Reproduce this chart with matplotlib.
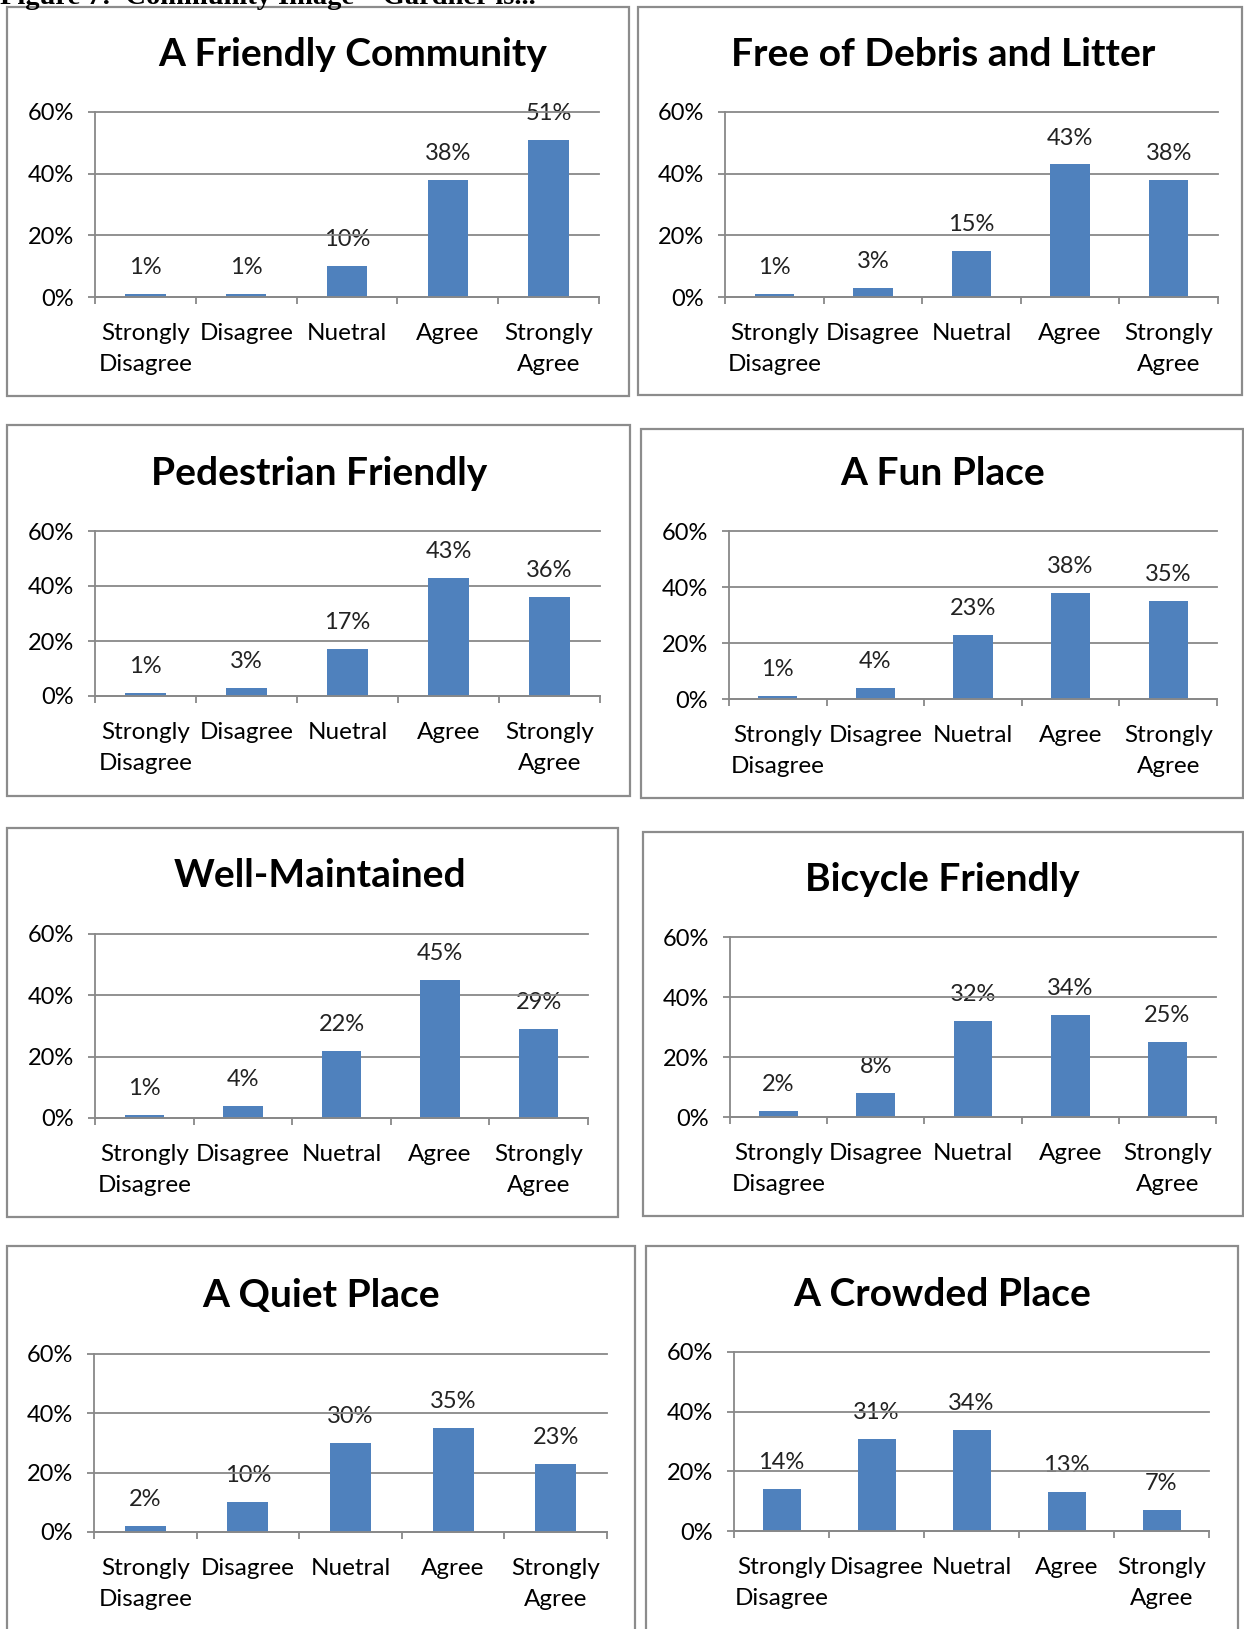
import matplotlib
matplotlib.use('Agg')
import matplotlib.pyplot as plt
from matplotlib.patches import Rectangle
from matplotlib.ticker import FixedLocator

plt.rcParams['font.family'] = ['Lato', 'DejaVu Sans']

# Categorias e valores (%)
categories = ['Strongly\nDisagree', 'Disagree', 'Nuetral', 'Agree', 'Strongly\nAgree']

titles = ['A Friendly Community', 'Free of Debris and Litter',
          'Pedestrian Friendly', 'A Fun Place',
          'Well-Maintained', 'Bicycle Friendly',
          'A Quiet Place', 'A Crowded Place']

friendly = [1, 1, 10, 38, 51]
debris = [1, 3, 15, 43, 38]
pedestrian = [1, 3, 17, 43, 36]
fun = [1, 4, 23, 38, 35]
maintained = [1, 4, 22, 45, 29]
bicycle = [2, 8, 32, 34, 25]
quiet = [2, 10, 30, 35, 23]
crowded = [14, 31, 34, 13, 7]

series = [friendly, debris, pedestrian, fun, maintained, bicycle, quiet, crowded]

y_ticks = [0, 20, 40, 60]
y_labels = ['0%', '20%', '40%', '60%']

# Layout em pixels: caixa (x0, y0, x1, y1), eixo (x0, y0, x1, y1), titulo (x, y)
W, H = 1244, 1629
boxes = [(7, 7, 629, 396), (638, 7, 1242, 395),
         (7, 425, 630, 796), (641, 429, 1243, 798),
         (7, 828, 618, 1217), (643, 832, 1243, 1216),
         (7, 1246, 635, 1640), (646, 1246, 1238, 1640)]
axes_px = [(95, 112, 599, 297), (725, 112, 1218, 297),
           (95, 531, 600, 696), (729, 531, 1217, 699),
           (95, 934, 588, 1118), (730, 937, 1216, 1117),
           (94, 1354, 607, 1532), (734, 1352, 1209, 1531)]
title_px = [(353, 54), (943, 54), (319, 474), (943, 474),
            (320, 876), (942, 880), (321, 1295), (942, 1295)]

bar_color = '#4F81BD'
grid_color = '#888888'

fig = plt.figure(figsize=(W / 100, H / 100), dpi=100)

# Cabecalho cortado no topo (como na imagem original)
fig.text(0.0, 1 - 4 / H, 'Figure 7:  Community Image \u2013 Gardner is...',
         family=['Liberation Serif', 'DejaVu Serif'], fontweight='bold',
         fontsize=20.5, va='baseline', ha='left')

for i in range(8):
    bx0, by0, bx1, by1 = boxes[i]
    fig.patches.append(Rectangle((bx0 / W, 1 - by1 / H), (bx1 - bx0) / W, (by1 - by0) / H,
                                 transform=fig.transFigure, fill=False,
                                 edgecolor='#8c8c8c', linewidth=1.6))
    tx, ty = title_px[i]
    fig.text(tx / W, 1 - ty / H, titles[i], fontsize=28, fontweight='bold',
             ha='center', va='center')

    ax0, ay0, ax1, ay1 = axes_px[i]
    ax = fig.add_axes([ax0 / W, 1 - ay1 / H, (ax1 - ax0) / W, (ay1 - ay0) / H])
    x = list(range(len(categories)))
    ax.bar(x, series[i], width=0.4, color=bar_color, zorder=2)
    for xi, v in zip(x, series[i]):
        ax.annotate(f'{v}%', (xi, v), xytext=(0, 19), textcoords='offset points',
                    ha='center', va='center', fontsize=17, color='#222222', zorder=0.3)

    ax.set_xlim(-0.5, 4.5)
    ax.set_ylim(0, 60)
    ax.set_yticks(y_ticks)
    ax.set_yticklabels(y_labels, fontsize=17)
    ax.set_xticks(x)
    ax.set_xticklabels(categories, fontsize=17.5, linespacing=1.6)
    ax.xaxis.set_minor_locator(FixedLocator([-0.5, 0.5, 1.5, 2.5, 3.5, 4.5]))
    ax.tick_params(axis='x', which='major', length=0, pad=18.5)
    ax.tick_params(axis='x', which='minor', length=5, width=1.3, color=grid_color, direction='out')
    ax.tick_params(axis='y', length=5, width=1.3, color=grid_color, direction='out', pad=10)
    ax.set_axisbelow(True)
    ax.yaxis.grid(True, color=grid_color, linewidth=1.3)
    for gl in ax.get_ygridlines():
        gl.set_clip_on(False)
    for s in ['top', 'right']:
        ax.spines[s].set_visible(False)
    for s in ['left', 'bottom']:
        ax.spines[s].set_color(grid_color)
        ax.spines[s].set_linewidth(1.3)

plt.savefig('out.png', dpi=100)
